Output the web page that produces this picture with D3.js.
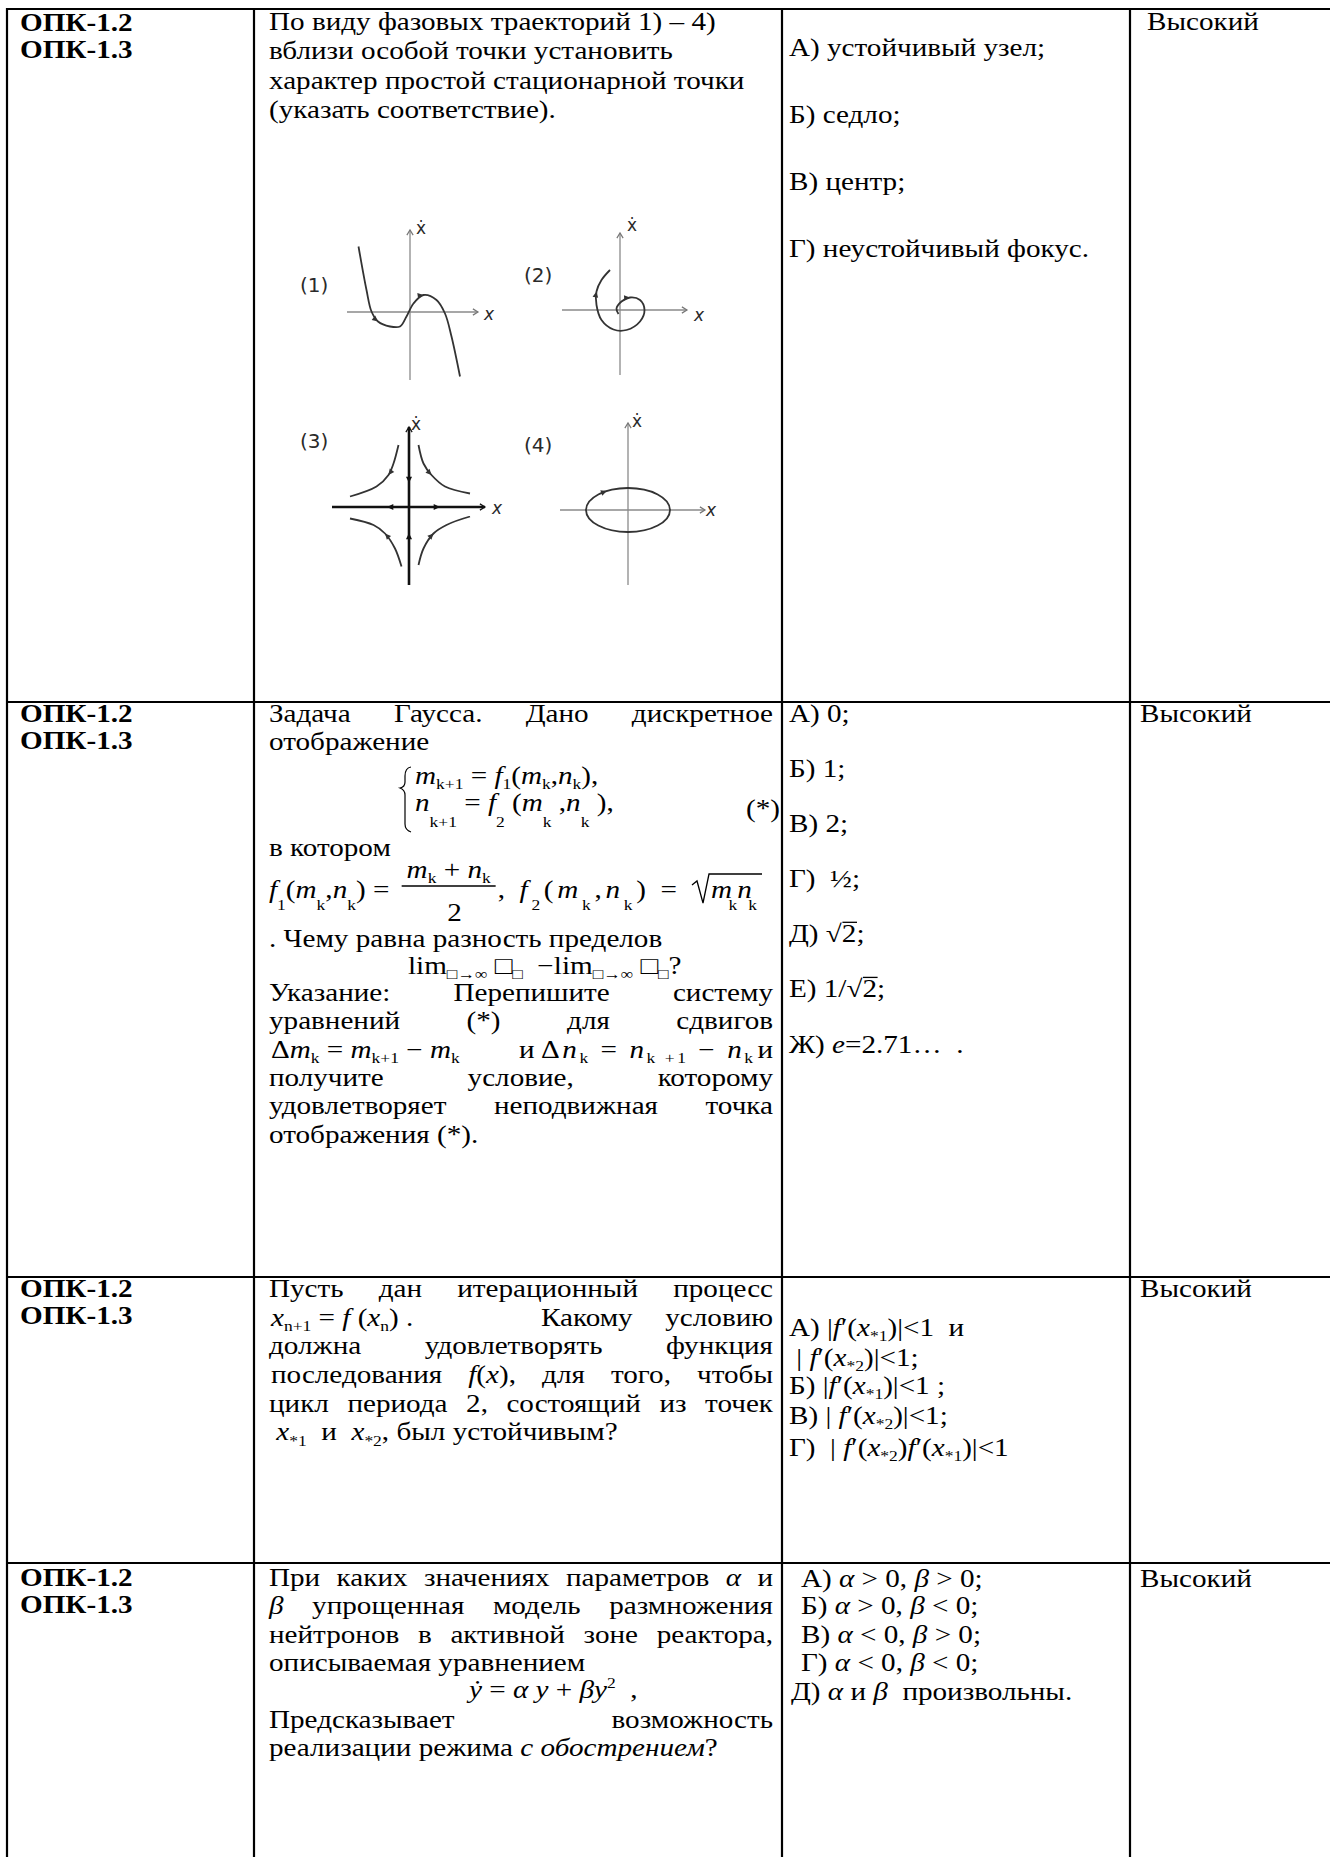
<!DOCTYPE html>
<html>
<head>
<meta charset="utf-8">
<script src="https://cdn.jsdelivr.net/npm/d3@7"></script>
<style>
  body { margin: 0; background: #fff; }
  svg text { font-family: "Liberation Serif", "Times New Roman", serif; fill: #000; }
</style>
</head>
<body>
<div id="page"></div>
<script>
// ---- content of the table ----
const competences = ["ОПК-1.2", "ОПК-1.3"];
const levelLabel = "Высокий";

const task1Lines = [
  "По виду фазовых траекторий 1) – 4)",
  "вблизи особой точки установить",
  "характер простой стационарной точки",
  "(указать соответствие)."
];
const task1Options = ["А) устойчивый узел;", "Б) седло;", "В) центр;", "Г) неустойчивый фокус."];
const figTags = ["(1)", "(2)", "(3)", "(4)"];

// phase portraits, points (axis units)
const fig1Curve = [[-1.03, 1.31], [-0.87, 0.44], [-0.77, 0.01], [-0.64, -0.19], [-0.4, -0.29],
  [-0.2, -0.29], [-0.07, -0.09], [0.07, 0.17], [0.27, 0.34], [0.53, 0.24], [0.7, -0.03],
  [0.83, -0.49], [1.0, -1.29]];
const fig2Spiral = [[-0.03, -0.08], [-0.07, 0.03], [0.03, 0.17], [0.2, 0.25], [0.4, 0.2],
  [0.49, 0.0], [0.4, -0.23], [0.13, -0.4], [-0.13, -0.39], [-0.37, -0.2], [-0.47, 0.1],
  [-0.47, 0.37], [-0.37, 0.6], [-0.2, 0.8]];
const fig3Branches = [
  [[-0.21, 1.24], [-0.31, 0.87], [-0.41, 0.64], [-0.65, 0.41], [-1.18, 0.21]],
  [[0.19, 1.24], [0.29, 0.87], [0.45, 0.64], [0.72, 0.41], [1.22, 0.27]],
  [[-0.15, -1.19], [-0.28, -0.83], [-0.48, -0.53], [-0.71, -0.36], [-1.18, -0.23]],
  [[0.19, -1.16], [0.29, -0.83], [0.49, -0.53], [0.75, -0.36], [1.22, -0.19]]
];
const fig3AxisArrows = [[0, 0.48, 0, -1], [0, -0.52, 0, 1], [-0.44, 0, -1, 0], [0.62, 0, 1, 0]];
const fig4Orbit = [0.84, 0.44];
const figAxes = [[-1.26, 1.36, -1.36, 1.64], [-1.16, 1.34, -1.3, 1.54],
  [-1.54, 1.52, -1.56, 1.6], [-1.36, 1.54, -1.5, 1.74]];

const task2Head = ["Задача Гаусса. Дано дискретное", "отображение"];
const task2Mid = ["в котором", ". Чему равна разность пределов"];
const task2Tail = ["Указание: Перепишите систему", "уравнений (*) для сдвигов"];
const task2End = ["получите условие, которому", "удовлетворяет неподвижная точка", "отображения (*)."];
const sysRow1 = [["m", "i"], ["k+1", "_"], " = ", ["f", "i"], ["1", "_"], "(", ["m", "i"], ["k", "_"], ",", ["n", "i"], ["k", "_"], "),"];
const sysRow2 = [["n", "i"], ["k+1", "V"], " = ", ["f", "i"], ["2", "V"], " (", ["m", "i"], ["k", "V"], " ,", ["n", "i"], ["k", "V"], " ),"];
const fLeft = [["f", "i"], ["1", "v"], "(", ["m", "i"], ["k", "v"], ",", ["n", "i"], ["k", "v"], ") = "];
const fNum = [["m", "i"], ["k", "_"], " + ", ["n", "i"], ["k", "_"]];
const fDen = ["2"];
const fRight = [", ", ["f", "i"], ["2", "v"], "(", ["m", "i"], ["k", "v"], ",", ["n", "i"], ["k", "v"], ") = "];
const fRoot = [["m", "i"], ["k", "v"], " ", ["n", "i"], ["k", "v"]];
const limRow = ["lim", ["□→∞", "_"], " □", ["□", "_"], "  −lim", ["□→∞", "_"], " □", ["□", "_"], "?"];
const deltaRow = [
  ["Δ", ["m", "i"], ["k", "_"], " = ", ["m", "i"], ["k+1", "_"], " − ", ["m", "i"], ["k", "_"]],
  ["и"],
  ["Δ", ["n", "i"], ["k", "_"], " = ", ["n", "i"], ["k +1", "_"], " − ", ["n", "i"], ["k", "_"]],
  ["и"]
];
const task2Options = ["А) 0;", "Б) 1;", "В) 2;", "Г)  ½;", "Д) √2;", "Е) 1/√2;", ["Ж) ", ["e", "i"], "=2.71…  ."]];

const task3Lines = [
  "Пусть дан итерационный процесс",
  [[["x", "i"], ["n+1", "_"], " = ", ["f", "i"], " (", ["x", "i"], ["n", "_"], ") ."], ["Какому"], ["условию"]],
  "должна удовлетворять функция",
  [["последования"], [["f", "i"], "(", ["x", "i"], "),"], ["для"], ["того,"], ["чтобы"]],
  "цикл периода 2, состоящий из точек",
  [[" ", ["x", "i"], ["*1", "_"], "  и  ", ["x", "i"], ["*2", "_"], ", был устойчивым?"]]
];
const task3Options = [
  ["А) |", ["f", "i"], "′(", ["x", "i"], ["*1", "_"], ")|<1  и"],
  [" | ", ["f", "i"], "′(", ["x", "i"], ["*2", "_"], ")|<1;"],
  ["Б) |", ["f", "i"], "′(", ["x", "i"], ["*1", "_"], ")|<1 ;"],
  ["В) | ", ["f", "i"], "′(", ["x", "i"], ["*2", "_"], ")|<1;"],
  ["Г)  | ", ["f", "i"], "′(", ["x", "i"], ["*2", "_"], ")", ["f", "i"], "′(", ["x", "i"], ["*1", "_"], ")|<1"]
];

const task4Lines = [
  [["При"], ["каких"], ["значениях"], ["параметров"], [["α", "i"]], ["и"]],
  [[["β", "i"]], ["упрощенная"], ["модель"], ["размножения"]],
  "нейтронов в активной зоне реактора,",
  "описываемая уравнением",
  "Предсказывает возможность",
  ["реализации режима ", ["с обострением", "i"], "?"]
];
const task4Formula = [["ẏ", "i"], " = ", ["α", "i"], " ", ["y", "i"], " + ", ["β", "i"], ["y", "i"], ["2", "^"], "  ,"];
const task4Options = [
  ["А) ", ["α", "i"], " > 0, ", ["β", "i"], " > 0;"],
  ["Б) ", ["α", "i"], " > 0, ", ["β", "i"], " < 0;"],
  ["В) ", ["α", "i"], " < 0, ", ["β", "i"], " > 0;"],
  ["Г) ", ["α", "i"], " < 0, ", ["β", "i"], " < 0;"],
  ["Д) ", ["α", "i"], " и ", ["β", "i"], "  произвольны."]
];

// ---- layout ----
const W = 1330, H = 1857;
const F = 24.5;      // glyph height of the page text
const SX = 1.19;     // the page image is wider than tall, text is stretched sideways
const COLX = [7, 254, 782, 1130];
const ROWY = [9, 702, 1277, 1563];
const TX = [20, 269, 789, 1140];
const TR = 773;

const svg = d3.select("#page").append("svg").attr("width", W).attr("height", H);
svg.append("rect").attr("width", W).attr("height", H).attr("fill", "#fff");
const g = svg.append("g");
const tg = svg.append("g").attr("transform", "scale(" + SX + ",1)");

const SHIFT = { "_": 5.5, "v": 12, "V": 16, "^": -10 };
function rich(parent, x, y, runs, size) {
  size = size || F;
  const t = parent.append("text").attr("x", x / SX).attr("y", y)
    .style("font-size", size + "px").style("white-space", "pre");
  let shift = 0;
  runs.forEach(function (r) {
    const s = typeof r === "string" ? r : r[0];
    const f = typeof r === "string" ? "" : r[1];
    let want = 0, small = false;
    Object.keys(SHIFT).forEach(function (k) {
      if (f.includes(k)) { want = SHIFT[k]; small = true; }
    });
    const sp = t.append("tspan").text(s);
    if (want !== shift) sp.attr("dy", want - shift);
    shift = want;
    if (small) sp.style("font-size", (size * 0.6) + "px");
    if (f.includes("i")) sp.style("font-style", "italic");
    if (f.includes("b")) sp.style("font-weight", "bold");
  });
  return t;
}
function widthOf(t) { return t.node().getComputedTextLength() * SX; }

function asRuns(item) {
  return typeof item === "string" ? [item] : item;
}

// spread groups between x0 and x1 like a justified paragraph line
function justify(parent, x0, x1, y, groups) {
  const nodes = groups.map(function (gr) { return rich(parent, 0, y, asRuns(gr)); });
  const widths = nodes.map(function (n) { return n.node().getComputedTextLength(); });
  const gap = nodes.length > 1 ? ((x1 - x0) / SX - d3.sum(widths)) / (nodes.length - 1) : 0;
  let x = x0 / SX;
  nodes.forEach(function (n, i) { n.attr("x", x); x += widths[i] + gap; });
}
function justifyText(parent, y, line) {
  justify(parent, TX[1], TR, y, line.split(" ").map(function (w) { return [w]; }));
}

function overlineChar(textSel, idx) {
  const ext = textSel.node().getExtentOfChar(idx);
  const y = +textSel.attr("y") - F * 0.82;
  tg.append("line").attr("x1", ext.x + 0.5).attr("x2", ext.x + ext.width + 0.5)
    .attr("y1", y).attr("y2", y).attr("stroke", "#000").attr("stroke-width", 1.3);
}

// ---- table grid ----
COLX.forEach(function (x) {
  g.append("line").attr("x1", x).attr("x2", x).attr("y1", ROWY[0] - 1).attr("y2", H)
    .attr("stroke", "#000").attr("stroke-width", 2.2);
});
ROWY.forEach(function (y) {
  g.append("line").attr("x1", COLX[0] - 1).attr("x2", W).attr("y1", y).attr("y2", y)
    .attr("stroke", "#000").attr("stroke-width", 2.2);
});

// competence codes + level
const rowFirst = [31, 722, 1297, 1586];
const levelY = [30, 722, 1297, 1587];
const levelX = [1147, 1140, 1140, 1140];
rowFirst.forEach(function (y0, r) {
  competences.forEach(function (c, i) {
    rich(tg, TX[0], y0 + i * 27, [[c, "b"]]);
  });
  rich(tg, levelX[r], levelY[r], [levelLabel]);
});

// ---- row 1 ----
task1Lines.forEach(function (l, i) { rich(tg, TX[1], 30 + i * 29.3, [l]); });
task1Options.forEach(function (l, i) { rich(tg, TX[2], 56 + i * 67, [l]); });

// phase portraits
const U = 50;
const figOrigin = [[410, 312], [620, 310], [409, 507], [628, 510]];
const tagPos = [[300, 292], [524, 282], [300, 448], [524, 452]];
const dotPos = [[416, 234], [627, 231], [411, 430], [632, 427]];
const xPos = [[484, 320], [694, 321], [492, 514], [706, 516]];
const fg = g.append("g");

function figScales(i) {
  const o = figOrigin[i];
  return {
    x: d3.scaleLinear().domain([0, 1]).range([o[0], o[0] + U]),
    y: d3.scaleLinear().domain([0, 1]).range([o[1], o[1] - U])
  };
}
function arrowHead(p0, p1, size, color) {
  const a = Math.atan2(p1[1] - p0[1], p1[0] - p0[0]);
  const pts = [p1,
    [p1[0] - size * Math.cos(a - 0.45), p1[1] - size * Math.sin(a - 0.45)],
    [p1[0] - size * Math.cos(a + 0.45), p1[1] - size * Math.sin(a + 0.45)]];
  fg.append("path").attr("d", "M" + pts.join("L") + "Z").attr("fill", color);
}
function chevron(tip, dx, dy, color, w) {
  const a = Math.atan2(dy, dx), s = 6;
  const p1 = [tip[0] - s * Math.cos(a - 0.55), tip[1] - s * Math.sin(a - 0.55)];
  const p2 = [tip[0] - s * Math.cos(a + 0.55), tip[1] - s * Math.sin(a + 0.55)];
  fg.append("path").attr("d", "M" + p1 + "L" + tip + "L" + p2)
    .attr("fill", "none").attr("stroke", color).attr("stroke-width", w);
}
function drawAxes(i) {
  const s = figScales(i), a = figAxes[i];
  const bold = i === 2;
  const col = bold ? "#111" : "#8a8a8a", w = bold ? 2.6 : 1.3;
  fg.append("line").attr("x1", s.x(a[0])).attr("x2", s.x(a[1])).attr("y1", s.y(0)).attr("y2", s.y(0))
    .attr("stroke", col).attr("stroke-width", w);
  fg.append("line").attr("x1", s.x(0)).attr("x2", s.x(0)).attr("y1", s.y(a[2])).attr("y2", s.y(a[3]))
    .attr("stroke", col).attr("stroke-width", w);
  chevron([s.x(a[1]), s.y(0)], 1, 0, bold ? "#111" : "#777", 1.2);
  chevron([s.x(0), s.y(a[3])], 0, -1, bold ? "#111" : "#777", 1.2);
  fg.append("text").attr("x", tagPos[i][0]).attr("y", tagPos[i][1]).text(figTags[i])
    .style("font-family", "DejaVu Sans").style("font-size", "20px").style("fill", "#2a2a2a");
  fg.append("text").attr("x", dotPos[i][0]).attr("y", dotPos[i][1]).text("ẋ")
    .style("font-family", "DejaVu Sans").style("font-size", "17px").style("fill", "#2a2a2a");
  fg.append("text").attr("x", xPos[i][0]).attr("y", xPos[i][1]).text("x")
    .style("font-family", "DejaVu Sans").style("font-size", "17px").style("font-style", "italic").style("fill", "#2a2a2a");
}
function drawCurve(i, pts, arrowsAt) {
  const s = figScales(i);
  const line = d3.line().x(function (d) { return s.x(d[0]); }).y(function (d) { return s.y(d[1]); })
    .curve(d3.curveCatmullRom.alpha(0.5));
  fg.append("path").attr("d", line(pts)).attr("fill", "none")
    .attr("stroke", "#333").attr("stroke-width", 1.8);
  arrowsAt.forEach(function (k) {
    const p0 = [s.x(pts[k - 1][0]), s.y(pts[k - 1][1])];
    const p1 = [s.x(pts[k][0]), s.y(pts[k][1])];
    const p2 = [s.x(pts[k + 1][0]), s.y(pts[k + 1][1])];
    arrowHead([p1[0] - (p2[0] - p0[0]), p1[1] - (p2[1] - p0[1])], p1, 6.5, "#333");
  });
}

[0, 1, 2, 3].forEach(drawAxes);
drawCurve(0, fig1Curve, [3, 8]);
drawCurve(1, fig2Spiral, [3, 11]);
fig3Branches.forEach(function (b) { drawCurve(2, b, [2]); });
(function () {
  const s = figScales(2);
  fig3AxisArrows.forEach(function (a) {
    const p1 = [s.x(a[0]), s.y(a[1])];
    arrowHead([p1[0] - a[2] * 5, p1[1] + a[3] * 5], p1, 7, "#111");
  });
  const s4 = figScales(3);
  fg.append("ellipse").attr("cx", s4.x(0)).attr("cy", s4.y(0))
    .attr("rx", s4.x(fig4Orbit[0]) - s4.x(0)).attr("ry", s4.y(0) - s4.y(fig4Orbit[1]))
    .attr("fill", "none").attr("stroke", "#333").attr("stroke-width", 1.8);
  const t = 2.1;
  const pt = function (u) { return [s4.x(fig4Orbit[0] * Math.cos(u)), s4.y(fig4Orbit[1] * Math.sin(u))]; };
  arrowHead(pt(t + 0.15), pt(t), 6.5, "#333");
})();

// ---- row 2 ----
justifyText(tg, 722, task2Head[0]);
rich(tg, TX[1], 750, [task2Head[1]]);
g.append("path").attr("d", "M411,767 Q405,768 405,776 L405,782 Q405,787 400,788 Q405,790 405,795 L405,824 Q405,830 411,832")
  .attr("fill", "none").attr("stroke", "#000").attr("stroke-width", 1.2);
rich(tg, 415, 784, sysRow1);
rich(tg, 415, 811, sysRow2);
rich(tg, 746, 817, ["(*)"]);
rich(tg, TX[1], 856, [task2Mid[0]]);
(function () {
  const left = rich(tg, TX[1], 898, fLeft);
  const x0 = TX[1] + widthOf(left) + 5;
  const bw = 94;
  g.append("line").attr("x1", x0).attr("x2", x0 + bw).attr("y1", 886).attr("y2", 886)
    .attr("stroke", "#000").attr("stroke-width", 1.3);
  rich(tg, x0 + bw / 2, 878, fNum).attr("text-anchor", "middle");
  rich(tg, x0 + bw / 2 + 6, 921, fDen).attr("text-anchor", "middle");
  const rx = x0 + bw + 2, xr = 692;
  rich(tg, rx, 898, fRight).attr("textLength", (xr - rx - 4) / SX).attr("lengthAdjust", "spacing");
  rich(tg, xr + 19, 898, fRoot).attr("textLength", 46 / SX).attr("lengthAdjust", "spacing");
  const rw = 50;
  g.append("path").attr("d", "M" + xr + ",885 L" + (xr + 5) + ",881 L" + (xr + 11) + ",903 L" + (xr + 17) + ",874 L" + (xr + 20 + rw) + ",874")
    .attr("fill", "none").attr("stroke", "#000").attr("stroke-width", 1.3);
})();
rich(tg, TX[1], 947, [task2Mid[1]]);
rich(tg, 408, 974, limRow);
task2Tail.forEach(function (l, i) { justifyText(tg, 1001 + i * 28.2, l); });
(function () {
  const y = 1058;
  rich(tg, TX[1] + 2, y, deltaRow[0]);
  rich(tg, 519, y, deltaRow[1]);
  rich(tg, 541, y, deltaRow[2]).attr("textLength", 212 / SX).attr("lengthAdjust", "spacing");
  rich(tg, TR, y, deltaRow[3]).attr("text-anchor", "end");
})();
justifyText(tg, 1086, task2End[0]);
justifyText(tg, 1114, task2End[1]);
rich(tg, TX[1], 1143, [task2End[2]]);
task2Options.forEach(function (l, i) {
  const t = rich(tg, TX[2], 722 + i * 55.1, asRuns(l));
  if (i === 4) overlineChar(t, 4);
  if (i === 5) overlineChar(t, 6);
});

// ---- row 3 ----
task3Lines.forEach(function (l, i) {
  const y = 1297 + i * 28.7;
  if (typeof l === "string") { justifyText(tg, y, l); return; }
  if (i === 1) {
    rich(tg, TX[1] + 2, y, l[0]);
    rich(tg, 541, y, l[1]);
    rich(tg, TR, y, l[2]).attr("text-anchor", "end");
  } else if (l.length > 1) {
    justify(tg, TX[1] + 2, TR, y, l);
  } else {
    rich(tg, TX[1], y, l[0]);
  }
});
const t3y = [1336, 1366, 1394, 1424, 1456];
task3Options.forEach(function (l, i) { rich(tg, TX[2], t3y[i], l); });

// ---- row 4 ----
const t4y = [1586, 1614, 1643, 1671, 1728, 1756];
task4Lines.forEach(function (l, i) {
  const y = t4y[i];
  if (i === 0 || i === 1) justify(tg, TX[1], TR, y, l);
  else if (i === 2 || i === 4) justifyText(tg, y, l);
  else rich(tg, TX[1], y, asRuns(l));
});
rich(tg, 469, 1698, task4Formula);
const t4o = [1587, 1614, 1643, 1671, 1700];
task4Options.forEach(function (l, i) { rich(tg, i === 4 ? 791 : 801, t4o[i], l); });
</script>
</body>
</html>
